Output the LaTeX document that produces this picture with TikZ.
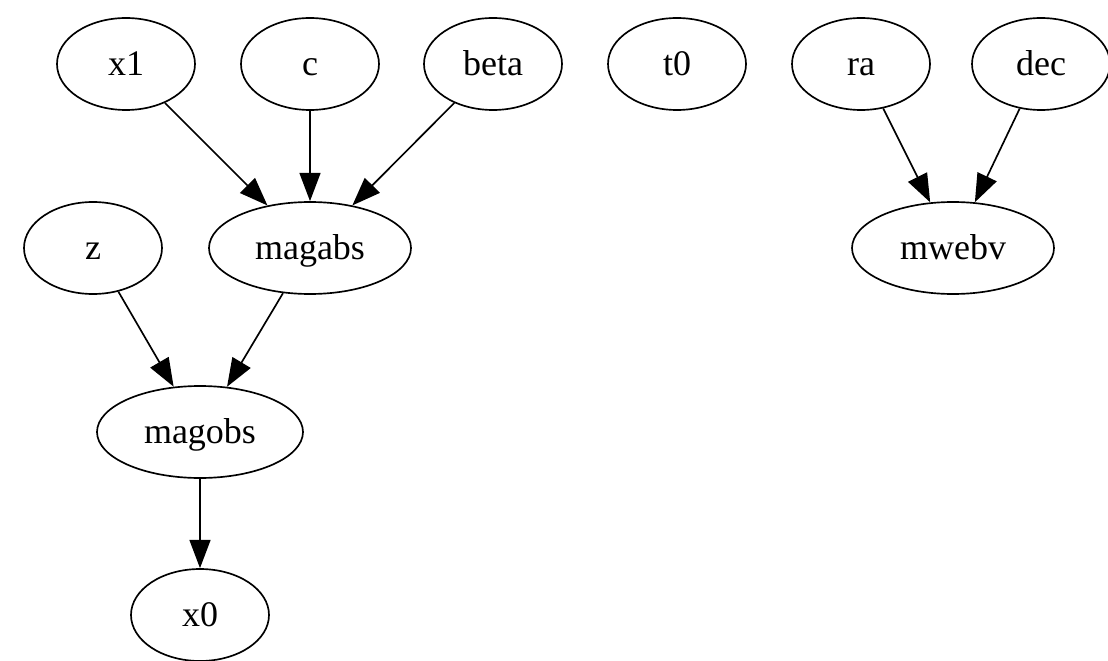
\documentclass[tikz,border=0pt]{standalone}
\usepackage{fontspec}
\setmainfont{Liberation Serif}
\usetikzlibrary{shapes.geometric,arrows.meta}

\begin{document}
\begin{tikzpicture}[x=0.3pt,y=-0.3pt,
  var/.style={ellipse,draw,line width=0.5pt,inner sep=0pt,text height=9pt,text depth=2pt,minimum width=41.4pt,minimum height=27.6pt,font=\fontsize{10.8}{12}\selectfont},
  wide/.style={var,minimum width=60.6pt},
  edge/.style={line width=0.5pt,-{Triangle[length=8.5pt,width=6.3pt]}}]
\useasboundingbox (0,0) rectangle (1108,661);
\node[var] (x1) at (126,64) {x1};
\node[var] (c) at (310,64) {c};
\node[var] (beta) at (493,64) {beta};
\node[var] (t0) at (677,64) {t0};
\node[var] (ra) at (861,64) {ra};
\node[var] (dec) at (1041,64) {dec};
\node[var] (z) at (93,248) {z};
\node[wide] (magabs) at (310,248) {magabs};
\node[wide] (mwebv) at (953,248) {mwebv};
\node[wide,minimum width=61.8pt] (magobs) at (200,432) {magobs};
\node[var] (x0) at (200,615) {x0};
\draw[edge] (x1)--(magabs);
\draw[edge] (c)--(magabs);
\draw[edge] (beta)--(magabs);
\draw[edge] (ra)--(mwebv);
\draw[edge] (dec)--(mwebv);
\draw[edge] (z)--(magobs);
\draw[edge] (magabs)--(magobs);
\draw[edge] (magobs)--(x0);
\end{tikzpicture}
\end{document}
